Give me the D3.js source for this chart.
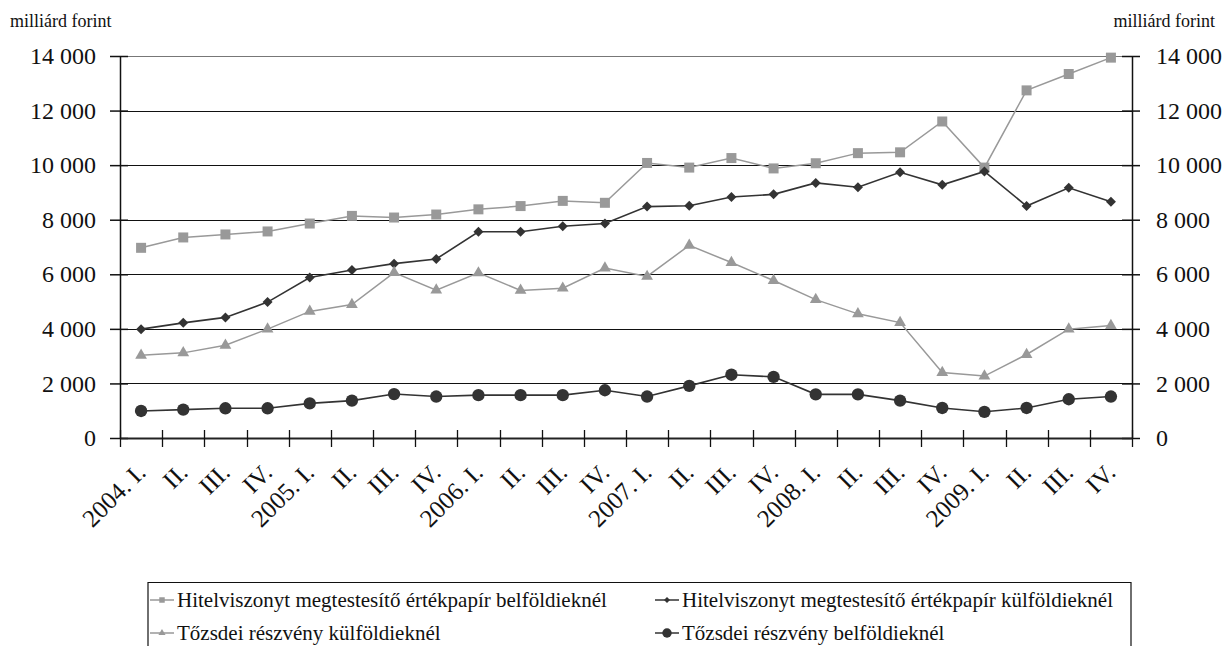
<!DOCTYPE html>
<html>
<head>
<meta charset="utf-8">
<script src="https://cdn.jsdelivr.net/npm/d3@7"></script>
<style>
  html, body { margin: 0; padding: 0; background: #fff; }
  svg, svg text { font-family: 'Liberation Serif', 'DejaVu Serif', serif !important; }
</style>
</head>
<body>
<svg id="chart" width="1226" height="646"></svg>
<script>
// ---- data ----
const categories = ["2004. I.", "II.", "III.", "IV.", "2005. I.", "II.", "III.", "IV.",
  "2006. I.", "II.", "III.", "IV.", "2007. I.", "II.", "III.", "IV.",
  "2008. I.", "II.", "III.", "IV.", "2009. I.", "II.", "III.", "IV."];

const hitelBelfold = [6970, 7350, 7460, 7570, 7860, 8140, 8080, 8190, 8380, 8500, 8690, 8620,
  10080, 9910, 10260, 9880, 10070, 10440, 10470, 11600, 9910, 12740, 13340, 13940];

const hitelKulfold = [3990, 4220, 4420, 4980, 5880, 6160, 6390, 6560, 7560, 7560, 7760, 7860,
  8480, 8510, 8830, 8930, 9350, 9190, 9740, 9280, 9770, 8500, 9170, 8660];

const tozsdeKulfold = [3030, 3120, 3400, 3990, 4640, 4890, 6060, 5420, 6050, 5410, 5490, 6230,
  5920, 7060, 6430, 5770, 5070, 4550, 4230, 2400, 2270, 3060, 3990, 4120];

const tozsdeBelfold = [990, 1040, 1090, 1090, 1270, 1370, 1610, 1520, 1570, 1570, 1570, 1750,
  1520, 1910, 2320, 2240, 1600, 1600, 1370, 1100, 960, 1100, 1420, 1520];

const yTicks = [0, 2000, 4000, 6000, 8000, 10000, 12000, 14000];
const unitLabel = "milliárd forint";

const seriesNames = [
  "Hitelviszonyt megtestesítő értékpapír belföldieknél",
  "Hitelviszonyt megtestesítő értékpapír külföldieknél",
  "Tőzsdei részvény külföldieknél",
  "Tőzsdei részvény belföldieknél"
];

// ---- layout ----
const FONT = "'Liberation Serif', 'DejaVu Serif', serif";
const svg = d3.select("#chart");
const L = 120, R = 1132, T = 56, B = 438;
const LIGHT = "#999999", DARK = "#333333";

const x = d3.scaleBand().domain(d3.range(categories.length)).range([L, R]).paddingInner(0).paddingOuter(0);
const cx = i => x(i) + x.bandwidth() / 2;
const y = d3.scaleLinear().domain([0, 14000]).range([B, T]);

const loc = d3.formatLocale({ decimal: ",", thousands: " ", grouping: [3], currency: ["", ""] });
const fmt = v => v === 0 ? "0" : loc.format(",")(v);

// gridlines
svg.append("g").selectAll("line").data(yTicks.filter(d => d > 0)).join("line")
  .attr("x1", L).attr("x2", R)
  .attr("y1", d => Math.round(y(d)) + 0.5).attr("y2", d => Math.round(y(d)) + 0.5)
  .attr("stroke", d => d === 14000 ? "#777" : "#111").attr("stroke-width", 1.2);

// left axis
const leftAxis = d3.axisLeft(y).tickValues(yTicks).tickFormat(fmt).tickSizeInner(10).tickSizeOuter(0).tickPadding(14);
const gl = svg.append("g").attr("transform", `translate(${L},0)`).call(leftAxis)
  .attr("font-family", null).style("font-family", FONT);
gl.select(".domain").attr("stroke", "#111").attr("stroke-width", 1.5);
gl.selectAll(".tick line").attr("x2", -10).attr("x1", 8).attr("stroke", "#111").attr("stroke-width", 1.5);
gl.selectAll(".tick text").attr("font-size", 24).attr("fill", "#111").style("font-family", FONT);

// right axis
const rightAxis = d3.axisRight(y).tickValues(yTicks).tickFormat(fmt).tickSizeInner(8).tickSizeOuter(0).tickPadding(16);
const gr = svg.append("g").attr("transform", `translate(${R},0)`).call(rightAxis)
  .attr("font-family", null).style("font-family", FONT);
gr.select(".domain").attr("stroke", "#111").attr("stroke-width", 1.5);
gr.selectAll(".tick line").attr("x1", -10).attr("x2", 8).attr("stroke", "#111").attr("stroke-width", 1.5);
gr.selectAll(".tick text").attr("font-size", 24).attr("fill", "#111").style("font-family", FONT);

// x axis
const xAxis = d3.axisBottom(x).tickValues([]).tickSizeOuter(0);
const gx = svg.append("g").attr("transform", `translate(0,${B})`).call(xAxis);
gx.select(".domain").attr("stroke", "#222").attr("stroke-width", 2);
const bounds = d3.range(categories.length + 1).map(i => i < categories.length ? x(i) : R);
gx.selectAll("line.bt").data(bounds).join("line").attr("class", "bt")
  .attr("x1", d => Math.round(d) + 0.5).attr("x2", d => Math.round(d) + 0.5)
  .attr("y1", -8).attr("y2", 9).attr("stroke", "#111").attr("stroke-width", 1.3);
svg.append("g").selectAll("text").data(categories).join("text")
  .attr("transform", (d, i) => `translate(${cx(i) + 6},${B + 36}) rotate(-45)`)
  .attr("text-anchor", "end").attr("font-size", 25).attr("fill", "#111")
  .style("font-family", FONT)
  .text(d => d);

// unit labels
svg.append("text").attr("x", 10).attr("y", 27).attr("font-size", 18).attr("fill", "#111").style("font-family", FONT).text(unitLabel);
svg.append("text").attr("x", 1215).attr("y", 27).attr("text-anchor", "end").attr("font-size", 18).attr("fill", "#111").style("font-family", FONT).text(unitLabel);

// ---- series ----
const line = d3.line().x((d, i) => cx(i)).y(d => y(d));
const sym = {
  square: { gen: d3.symbol().type(d3.symbolSquare).size(100), rot: 0 },
  diamond: { gen: d3.symbol().type(d3.symbolSquare).size(50), rot: 45 },
  triangle: { gen: d3.symbol().type(d3.symbolTriangle).size(60), rot: 0 },
  circle: { gen: d3.symbol().type(d3.symbolCircle).size(120), rot: 0 }
};
const series = [
  { data: hitelBelfold, color: LIGHT, sym: "square", width: 1.5 },
  { data: hitelKulfold, color: DARK, sym: "diamond", width: 1.6 },
  { data: tozsdeKulfold, color: LIGHT, sym: "triangle", width: 1.5 },
  { data: tozsdeBelfold, color: DARK, sym: "circle", width: 1.6 }
];
const gs = svg.append("g");
series.forEach(s => {
  gs.append("path").datum(s.data).attr("d", line).attr("fill", "none")
    .attr("stroke", s.color).attr("stroke-width", s.width);
  gs.append("g").selectAll("path").data(s.data).join("path")
    .attr("transform", (d, i) => `translate(${cx(i)},${y(d)}) rotate(${sym[s.sym].rot})`)
    .attr("d", sym[s.sym].gen()).attr("fill", s.color);
});

// ---- legend ----
const lg = svg.append("g");
lg.append("path").attr("d", "M148,646 V582.5 H1131 V646").attr("fill", "none").attr("stroke", "#111").attr("stroke-width", 1.2);
const legPos = [
  { x: 150, y: 600 }, { x: 655, y: 600 }, { x: 150, y: 633 }, { x: 655, y: 633 }
];
const legSym = {
  square: { gen: d3.symbol().type(d3.symbolSquare).size(30), rot: 0 },
  diamond: { gen: d3.symbol().type(d3.symbolSquare).size(18), rot: 45 },
  triangle: { gen: d3.symbol().type(d3.symbolTriangle).size(22), rot: 0 },
  circle: { gen: d3.symbol().type(d3.symbolCircle).size(70), rot: 0 }
};
series.forEach((s, k) => {
  const p = legPos[k];
  lg.append("line").attr("x1", p.x).attr("x2", p.x + 24).attr("y1", p.y).attr("y2", p.y)
    .attr("stroke", s.color).attr("stroke-width", 1.5);
  lg.append("path").attr("transform", `translate(${p.x + 12},${p.y}) rotate(${legSym[s.sym].rot})`)
    .attr("d", legSym[s.sym].gen()).attr("fill", s.color);
  lg.append("text").attr("x", p.x + 27).attr("y", p.y + 7).attr("font-size", 21).attr("fill", "#111")
    .style("font-family", FONT).text(seriesNames[k]);
});
</script>
</body>
</html>
